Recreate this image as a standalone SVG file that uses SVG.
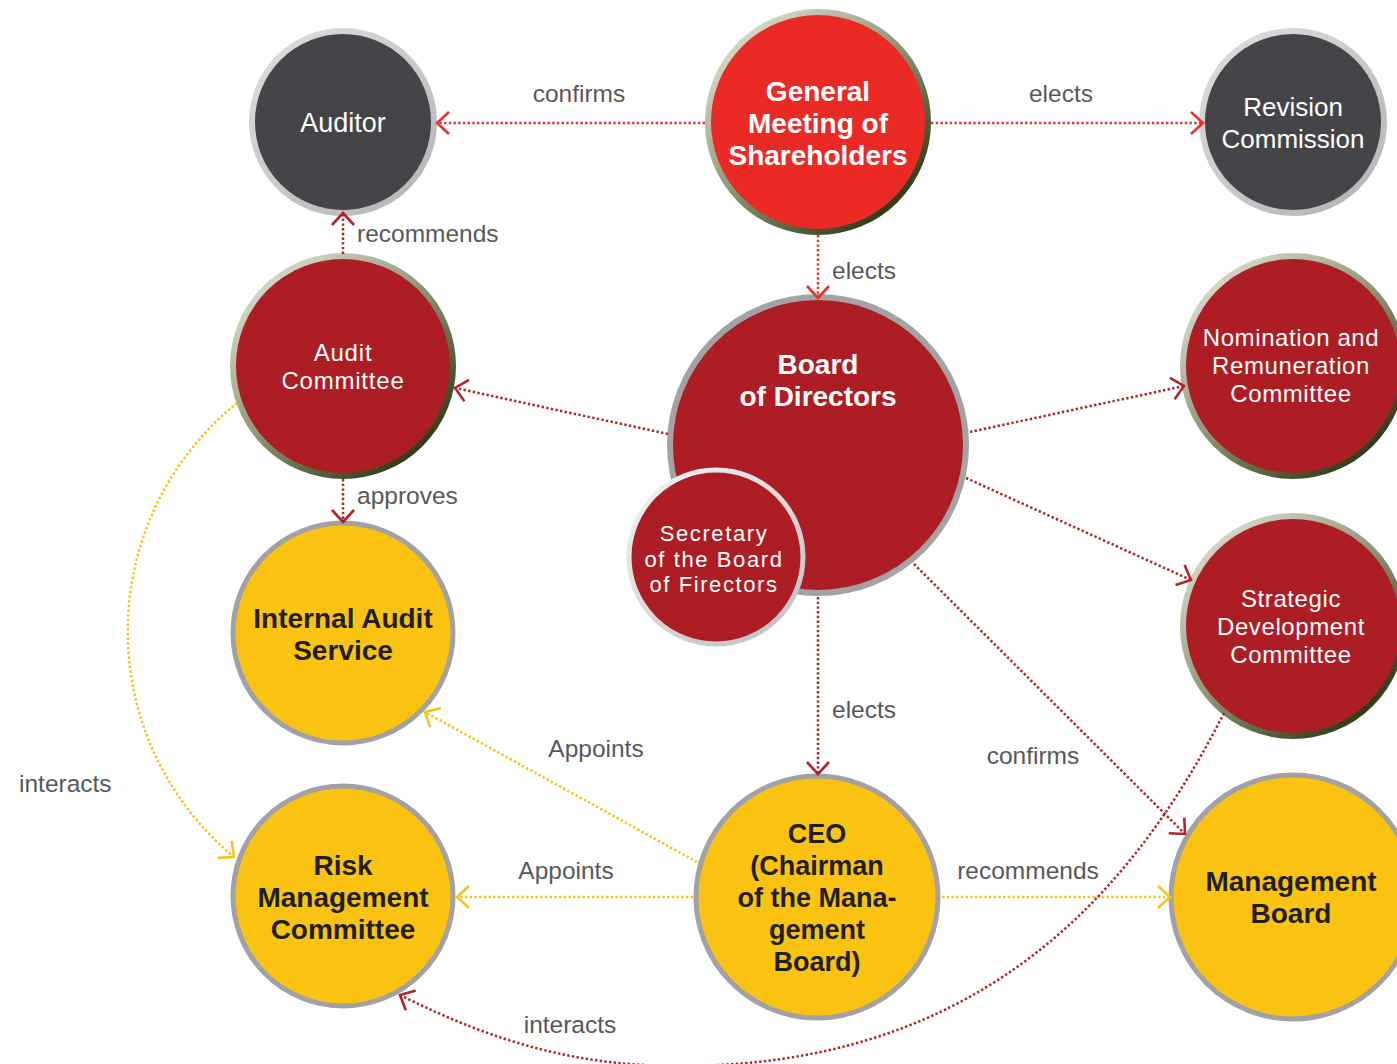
<svg xmlns="http://www.w3.org/2000/svg" width="1397" height="1064" viewBox="0 0 1397 1064">
<style>
.lbl{font-family:"Liberation Sans",Arial,sans-serif;font-size:24.5px;fill:#58585a}
.nt{font-family:"Liberation Sans",Arial,sans-serif;fill:#ffffff;text-anchor:middle}
.nb{font-family:"Liberation Sans",Arial,sans-serif;fill:#231f20;text-anchor:middle;font-weight:bold}
.red{fill:#ad1e24;stroke:url(#olive);stroke-width:6}
.dark{fill:#454549;stroke:url(#silver);stroke-width:6}
.yel{fill:#fbc311;stroke:#a2a1a5;stroke-width:5}
.c{fill:none;stroke-width:2.5;stroke-dasharray:2.4 2.3}
.cr{stroke:#e8312a}
.cd{stroke:#b0242a}
.cy{stroke:#f8c31a}
</style>
<defs>
<linearGradient id="olive" x1="0.15" y1="0.1" x2="0.85" y2="0.9">
<stop offset="0" stop-color="#d6d8c8"/>
<stop offset="0.5" stop-color="#8b9272"/>
<stop offset="1" stop-color="#2e3914"/>
</linearGradient>
<linearGradient id="silver" x1="0.15" y1="0.1" x2="0.85" y2="0.9">
<stop offset="0" stop-color="#dadada"/>
<stop offset="1" stop-color="#b8b8ba"/>
</linearGradient>
<linearGradient id="sec" x1="0.15" y1="0.1" x2="0.85" y2="0.9">
<stop offset="0" stop-color="#eeeeee"/>
<stop offset="1" stop-color="#c4c4c6"/>
</linearGradient>
<marker id="ar" markerUnits="userSpaceOnUse" markerWidth="16" markerHeight="26" viewBox="0 0 16 26" refX="14" refY="13" orient="auto"><path d="M2,2 L14,13 L2,24" fill="none" stroke="#e8312a" stroke-width="2.6"/></marker>
<marker id="ad" markerUnits="userSpaceOnUse" markerWidth="16" markerHeight="26" viewBox="0 0 16 26" refX="14" refY="13" orient="auto"><path d="M2,2 L14,13 L2,24" fill="none" stroke="#b0242a" stroke-width="2.6"/></marker>
<marker id="ay" markerUnits="userSpaceOnUse" markerWidth="16" markerHeight="26" viewBox="0 0 16 26" refX="14" refY="13" orient="auto"><path d="M2,2 L14,13 L2,24" fill="none" stroke="#f8c31a" stroke-width="2.6"/></marker>
</defs>
<rect width="1397" height="1064" fill="#ffffff"/>

<g id="auditor"><circle class="dark" cx="343" cy="122" r="91"/><text class="nt" x="343" y="132" font-size="27">Auditor</text></g>
<g id="gms"><circle class="red" cx="818" cy="122" r="110" style="fill:#ec2a25"/>
<text class="nt" font-weight="bold" font-size="28"><tspan x="818" y="101">General</tspan><tspan x="818" y="133">Meeting of</tspan><tspan x="818" y="165">Shareholders</tspan></text></g>
<g id="revision"><circle class="dark" cx="1293" cy="122" r="91"/>
<text class="nt" font-size="26"><tspan x="1293" y="116">Revision</tspan><tspan x="1293" y="148">Commission</tspan></text></g>
<g id="audit-committee"><circle class="red" cx="343" cy="366" r="110"/>
<text class="nt" font-size="24" letter-spacing="0.8"><tspan x="343" y="361">Audit</tspan><tspan x="343" y="389">Committee</tspan></text></g>
<g id="board"><circle cx="818" cy="445" r="148" fill="#ad1e24" stroke="#a3a3a6" stroke-width="6"/>
<text class="nt" font-weight="bold" font-size="28"><tspan x="818" y="374">Board</tspan><tspan x="818" y="406">of Directors</tspan></text></g>
<g id="secretary"><circle cx="716" cy="557" r="87" fill="#ad1e24" stroke="url(#sec)" stroke-width="5"/>
<text class="nt" font-size="22" letter-spacing="1.6"><tspan x="714" y="541">Secretary</tspan><tspan x="714" y="566.5">of the Board</tspan><tspan x="714" y="592">of Firectors</tspan></text></g>
<g id="nomination"><circle class="red" cx="1293" cy="366" r="110"/>
<text class="nt" font-size="24" letter-spacing="0.6"><tspan x="1291" y="346">Nomination and</tspan><tspan x="1291" y="374">Remuneration</tspan><tspan x="1291" y="402">Committee</tspan></text></g>
<g id="strategic"><circle class="red" cx="1293" cy="626" r="110"/>
<text class="nt" font-size="24" letter-spacing="0.6"><tspan x="1291" y="607">Strategic</tspan><tspan x="1291" y="635">Development</tspan><tspan x="1291" y="663">Committee</tspan></text></g>
<g id="internal-audit"><circle class="yel" cx="343" cy="633" r="110"/>
<text class="nb" font-size="28"><tspan x="343" y="628">Internal Audit</tspan><tspan x="343" y="660">Service</tspan></text></g>
<g id="risk"><circle class="yel" cx="343" cy="896" r="110"/>
<text class="nb" font-size="28"><tspan x="343" y="875">Risk</tspan><tspan x="343" y="907">Management</tspan><tspan x="343" y="939">Committee</tspan></text></g>
<g id="ceo"><circle class="yel" cx="817" cy="897" r="121"/>
<text class="nb" font-size="27"><tspan x="817" y="843">CEO</tspan><tspan x="817" y="875">(Chairman</tspan><tspan x="817" y="907">of the Mana-</tspan><tspan x="817" y="939">gement</tspan><tspan x="817" y="971">Board)</tspan></text></g>
<g id="management-board"><circle class="yel" cx="1293" cy="897" r="122"/>
<text class="nb" font-size="28"><tspan x="1291" y="891">Management</tspan><tspan x="1291" y="923">Board</tspan></text></g>

<g id="connectors">
<path class="c cr" d="M705,123 L437,123" marker-end="url(#ar)"/>
<path class="c cr" d="M931,123 L1203,123" marker-end="url(#ar)"/>
<path class="c cr" d="M818,235 L818,298" marker-end="url(#ar)"/>
<path class="c cd" d="M343,254 L343,213" marker-end="url(#ad)"/>
<path class="c cd" d="M343,479 L343,522" marker-end="url(#ad)"/>
<path class="c cd" d="M668,434 L455,388" marker-end="url(#ad)"/>
<path class="c cd" d="M970,432 L1184,386" marker-end="url(#ad)"/>
<path class="c cd" d="M966,478 L1191,580" marker-end="url(#ad)"/>
<path class="c cd" d="M818,597 L818,774" marker-end="url(#ad)"/>
<path class="c cd" d="M914,564 L1185,834" marker-end="url(#ad)"/>
<path class="c cy" d="M697,862 L425,712" marker-end="url(#ay)"/>
<path class="c cy" d="M693,897 L457,897" marker-end="url(#ay)"/>
<path class="c cy" d="M942,897 L1170,897" marker-end="url(#ay)"/>
<path class="c cy" d="M237,403 A293,293 0 0 0 234,857" marker-end="url(#ay)"/>
<path class="c cd" d="M1224,713 C1120,918 960,1066 680,1066 C580,1066 498,1044 400,995" marker-end="url(#ad)"/>
</g>

<g id="labels">
<text class="lbl" x="579" y="102" text-anchor="middle">confirms</text>
<text class="lbl" x="1061" y="102" text-anchor="middle">elects</text>
<text class="lbl" x="357" y="242">recommends</text>
<text class="lbl" x="832" y="279">elects</text>
<text class="lbl" x="357" y="504">approves</text>
<text class="lbl" x="832" y="718">elects</text>
<text class="lbl" x="596" y="757" text-anchor="middle">Appoints</text>
<text class="lbl" x="1033" y="764" text-anchor="middle">confirms</text>
<text class="lbl" x="19" y="792">interacts</text>
<text class="lbl" x="566" y="879" text-anchor="middle">Appoints</text>
<text class="lbl" x="1028" y="879" text-anchor="middle">recommends</text>
<text class="lbl" x="570" y="1033" text-anchor="middle">interacts</text>
</g>
</svg>
